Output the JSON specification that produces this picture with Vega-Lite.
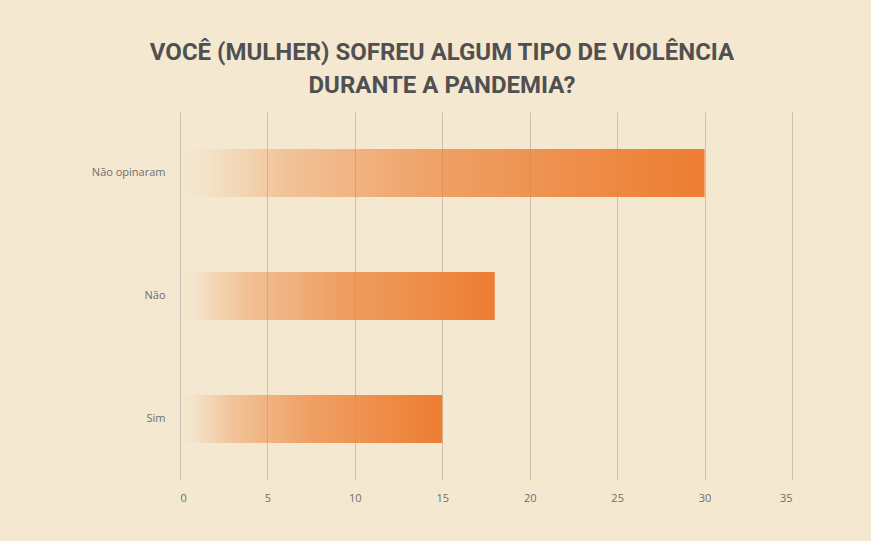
{
  "$schema": "https://vega.github.io/schema/vega-lite/v6.json",
  "width": 612,
  "height": 368,
  "autosize": "none",
  "padding": {"left": 180, "top": 112, "right": 79, "bottom": 61},
  "background": "#F4E8D0",
  "title": {
    "text": ["VOCÊ (MULHER) SOFREU ALGUM TIPO DE VIOLÊNCIA", "DURANTE A PANDEMIA?"],
    "font": "Roboto, sans-serif",
    "fontSize": 24,
    "fontWeight": "bold",
    "color": "#505050",
    "lineHeight": 33,
    "anchor": "middle",
    "frame": "group",
    "dx": -44,
    "offset": 14
  },
  "data": {
    "values": [
      {"resposta": "Não opinaram", "valor": 30},
      {"resposta": "Não", "valor": 18},
      {"resposta": "Sim", "valor": 15}
    ]
  },
  "config": {
    "view": {"stroke": null},
    "axis": {"labelFont": "Open Sans, sans-serif", "labelFontSize": 11, "labelColor": "#6e6e6e"}
  },
  "mark": {
    "type": "bar",
    "color": {
      "gradient": "linear",
      "x1": 0, "x2": 1, "y1": 0, "y2": 0,
      "stops": [
        {"offset": 0, "color": "rgba(237,125,49,0)"},
        {"offset": 0.05, "color": "rgba(237,125,49,0.04)"},
        {"offset": 0.2, "color": "rgba(237,125,49,0.35)"},
        {"offset": 0.5, "color": "rgba(237,125,49,0.68)"},
        {"offset": 1, "color": "rgba(237,125,49,1)"}
      ]
    }
  },
  "encoding": {
    "y": {
      "field": "resposta",
      "type": "nominal",
      "sort": ["Não opinaram", "Não", "Sim"],
      "scale": {"paddingInner": 0.61, "paddingOuter": 0.3},
      "axis": {"title": null, "ticks": false, "domain": false, "labelPadding": 15, "grid": false}
    },
    "x": {
      "field": "valor",
      "type": "quantitative",
      "scale": {"domain": [0, 35], "nice": false},
      "axis": {
        "title": null,
        "values": [0, 5, 10, 15, 20, 25, 30, 35],
        "ticks": false,
        "domain": false,
        "labelPadding": 12,
        "gridColor": "#c9c1b5",
        "gridWidth": 1
      }
    }
  }
}
